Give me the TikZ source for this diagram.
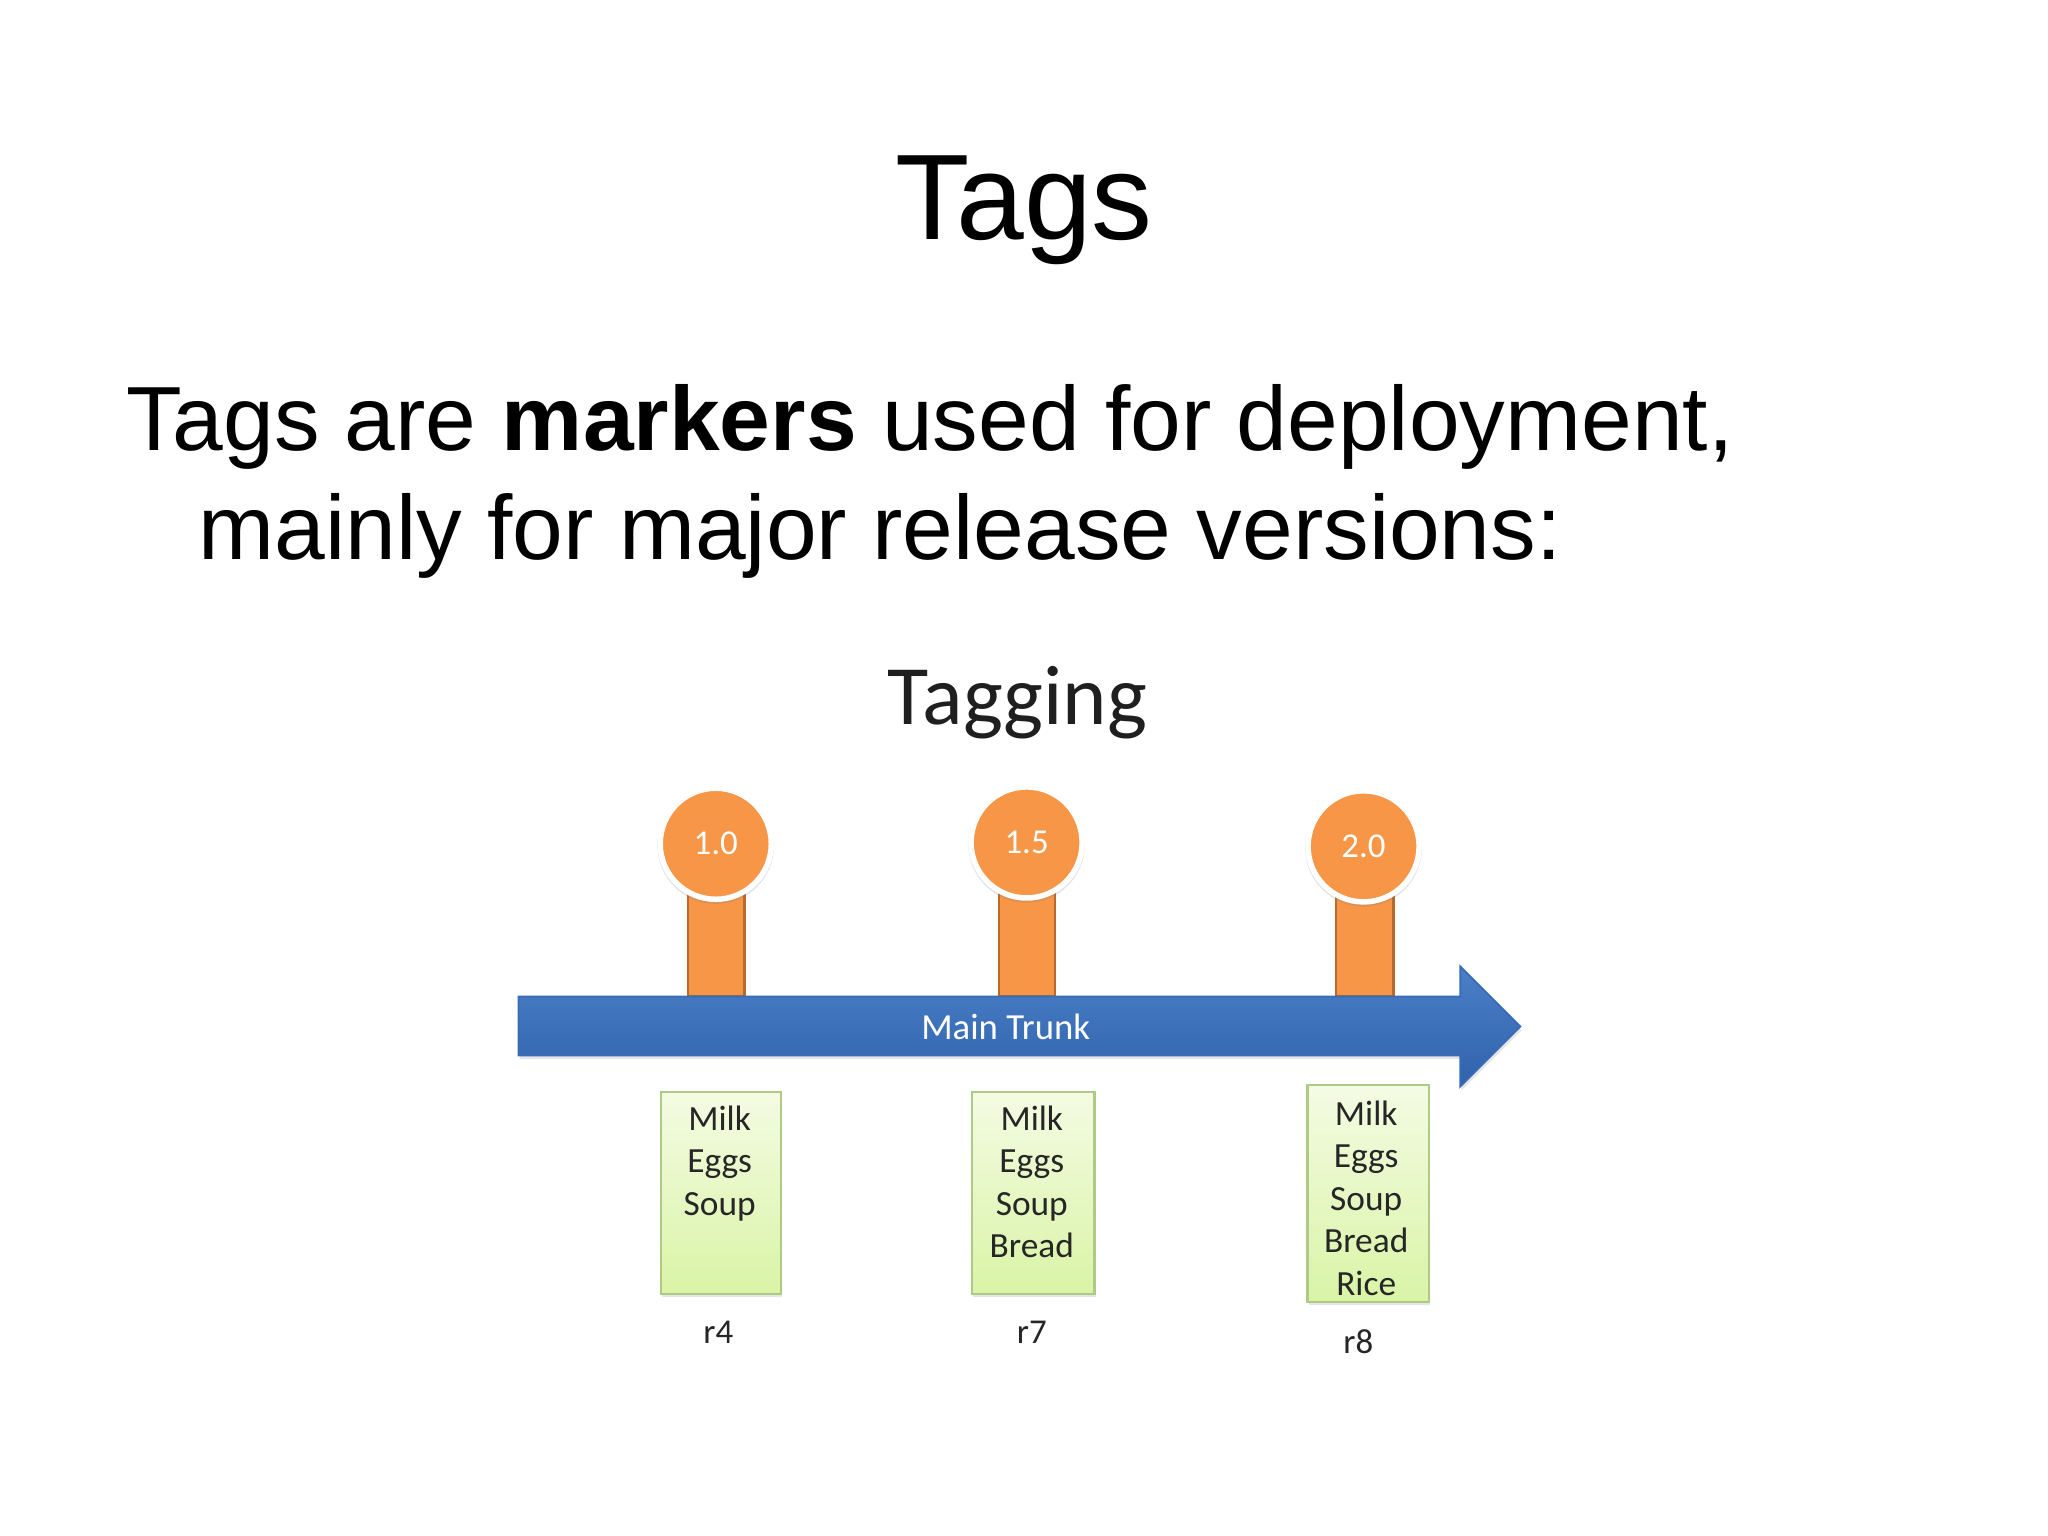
\documentclass[tikz,border=0pt]{standalone}
\usepackage{fontspec}
\setmainfont{Liberation Sans}
\newfontfamily\calfont{Carlito}
\usetikzlibrary{shadows}
\definecolor{orangeT}{HTML}{F79646}
\definecolor{stemedge}{HTML}{B9692C}
\definecolor{blueTop}{HTML}{4A80C8}
\definecolor{blueBot}{HTML}{2F62AA}
\definecolor{blueEdge}{HTML}{386CB4}
\definecolor{boxtop}{HTML}{F4FBE3}
\definecolor{boxbot}{HTML}{D9F4A6}
\definecolor{boxedge}{HTML}{AFC986}
\begin{document}
\begin{tikzpicture}[x=0.01cm,y=-0.01cm,
  tagball/.style={circle, fill=orangeT, draw=white, line width=1.2pt,
    minimum size=0.85cm, inner sep=0pt, text=white,
    font=\calfont\fontsize{7.6}{9}\selectfont,
    drop shadow={shadow xshift=0pt, shadow yshift=-0.4pt, shadow scale=1.05, opacity=0.22}},
  stem/.style={fill=orangeT, draw=stemedge, line width=0.5pt},
  itembox/.style={draw=boxedge, line width=0.5pt, top color=boxtop, bottom color=boxbot,
    inner sep=0pt, anchor=north,
    drop shadow={shadow xshift=0.3pt, shadow yshift=-0.6pt, opacity=0.2}},
  itemtext/.style={font=\calfont\fontsize{7.7}{9.25}\selectfont, align=center,
    inner sep=0pt, anchor=north, text=black!85},
  revlabel/.style={font=\calfont\fontsize{7.6}{9}\selectfont, text=black!85, inner sep=0pt}
]
\useasboundingbox (0,0) rectangle (1568,1176);
\fill[white] (0,0) rectangle (1568,1176);

% title and body text
\node[anchor=base, inner sep=0pt, font=\fontsize{26.5}{30}\selectfont] (title) at (784,183) {Tags};
\node[anchor=base west, inner sep=0pt, font=\fontsize{19.85}{24}\selectfont] (line1) at (96.5,344.6)
  {Tags are \textbf{markers} used for deployment,};
\node[anchor=base west, inner sep=0pt, font=\fontsize{19.85}{24}\selectfont] (line2) at (151.5,428)
  {mainly for major release versions:};

\node[anchor=base, inner sep=0pt, font=\calfont\fontsize{18.4}{22}\selectfont, text=black!88] (tagging) at (779,555) {Tagging};

% stems
\path[stem] (527,680) rectangle (570,763);
\path[stem] (765,680) rectangle (808,763);
\path[stem] (1023,680) rectangle (1067,763);

% main trunk arrow
\path[top color=blueTop, bottom color=blueBot, draw=blueEdge, line width=0.4pt,
  drop shadow={shadow xshift=0.3pt, shadow yshift=-0.8pt, opacity=0.2}]
  (397,763) -- (1118,763) -- (1118,740) -- (1164,786) -- (1118,832) -- (1118,808) -- (397,808) -- cycle;
\node[font=\calfont\fontsize{8}{10}\selectfont, text=white, inner sep=0pt] (trunk) at (770,786) {Main Trunk};

% tags
\node[tagball] (c1) at (548,646) {1.0};
\node[tagball] (c2) at (786,645) {1.5};
\node[tagball] (c3) at (1044,648) {2.0};

% revision boxes
\node[itembox, minimum width=0.92cm, minimum height=1.55cm] (b1) at (552,835) {};
\node[itembox, minimum width=0.94cm, minimum height=1.55cm] (b2) at (791,835) {};
\node[itembox, minimum width=0.93cm, minimum height=1.66cm] (b3) at (1047.5,830) {};

\node[itemtext] (t1) at (551,846) {Milk\\Eggs\\Soup};
\node[itemtext] (t2) at (790,846) {Milk\\Eggs\\Soup\\Bread};
\node[itemtext] (t3) at (1046,842) {Milk\\Eggs\\Soup\\Bread\\Rice};

\node[revlabel] (r1) at (550,1020) {r4};
\node[revlabel] (r2) at (790,1020) {r7};
\node[revlabel] (r3) at (1040,1027) {r8};
\end{tikzpicture}
\end{document}
